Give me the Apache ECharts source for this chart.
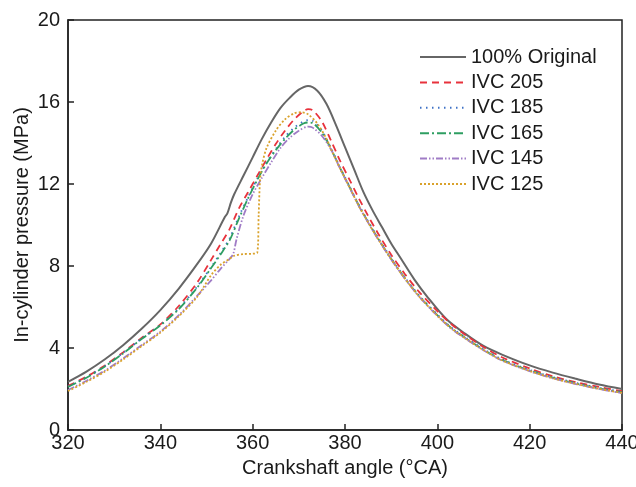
<!DOCTYPE html>
<html><head><meta charset="utf-8">
<script src="https://cdn.jsdelivr.net/npm/echarts@6/dist/echarts.min.js"></script>
<style>html,body{margin:0;padding:0;background:#fff}#c{width:636px;height:487px}</style>
</head><body><div id="c"></div>
<script>
const seriesNames = ['100% Original','IVC 205','IVC 185','IVC 165','IVC 145','IVC 125'];
const xTicks = [320,340,360,380,400,420,440];
const yTicks = [0,4,8,12,16,20];

const descAngles = [377,379,381,383,385,387,390,393,396,400,403,406,410,414,420,425,430,435,440];
const descValues = [13.7,12.75,11.85,10.95,10.15,9.4,8.35,7.4,6.55,5.6,4.98,4.5,3.92,3.42,2.9,2.55,2.27,2.03,1.83];

const origAngles = [320,324,328,332,336,340,344,348,351,354,354.5,355.3,356,358,360,362,364,366,368,370,372,374,376,378,380,382,384,386,388,390,392,395,398,402,406,410,414,420,425,430,435,440];
const origValues = [2.35,2.85,3.45,4.15,4.95,5.85,6.9,8.1,9.1,10.4,10.55,11.1,11.5,12.4,13.3,14.2,15.0,15.7,16.2,16.6,16.78,16.55,15.9,14.9,13.8,12.7,11.6,10.7,9.9,9.1,8.4,7.35,6.45,5.4,4.7,4.1,3.68,3.15,2.8,2.5,2.22,2.0];

const ivc205Angles = [320,324,328,332,336,340,344,348,351,353,355,357,359,361,363,365,367,369,371,372,373,375,377,379,381,383,385,387,390,393,396,400,403,406,410,414,420,425,430,435,440];
const ivc205Values = [2.15,2.6,3.15,3.8,4.5,5.15,6.05,7.2,8.3,9.05,9.8,10.8,11.6,12.4,13.2,13.95,14.6,15.15,15.55,15.65,15.6,15.05,14.1,13.1,12.2,11.3,10.45,9.65,8.55,7.6,6.75,5.8,5.17,4.65,4.05,3.55,3.0,2.62,2.33,2.1,1.9];

const riseAngles = [320,324,328,332,336,340,344,348,351,353,355,357,359,361,363,365,367,369,371,372,373,375];
const ivc185Rise = [2.12,2.57,3.12,3.77,4.47,5.12,5.93,7.0,7.95,8.62,9.35,10.4,11.35,12.25,13.05,13.7,14.3,14.75,15.05,15.12,15.08,14.6];
const ivc165Rise = [2.1,2.55,3.1,3.75,4.45,5.1,5.9,6.95,7.9,8.55,9.25,10.3,11.3,12.2,13.0,13.65,14.2,14.65,14.95,15.0,14.97,14.5];

const ivc145RiseAngles = [320,324,328,332,336,340,344,348,351,353,355,355.8,356.5,358,360,362,364,366,368,370,372,373,375];
const ivc145Rise = [1.95,2.4,2.9,3.5,4.15,4.8,5.6,6.55,7.3,7.85,8.35,8.6,9.3,10.45,11.5,12.3,13.05,13.75,14.25,14.6,14.8,14.75,14.35];

const ivc125RiseAngles = [320,324,328,332,336,340,344,348,351,353,355,356,358,360,361,361.3,361.6,362,363,365,367,369,370.5,372,374,376];
const ivc125Rise = [1.9,2.35,2.85,3.45,4.1,4.75,5.55,6.5,7.55,8.05,8.35,8.5,8.58,8.6,8.65,10.5,12.2,12.9,13.75,14.6,15.15,15.45,15.5,15.4,14.95,14.2];

function pairs(a, v){ return a.map((x,i)=>[x, v[i]]); }

const dataSets = [
  pairs(origAngles, origValues),
  pairs(ivc205Angles, ivc205Values),
  pairs(riseAngles.concat(descAngles), ivc185Rise.concat(descValues.map(v=>v+0.03))),
  pairs(riseAngles.concat(descAngles), ivc165Rise.concat(descValues)),
  pairs(ivc145RiseAngles.concat(descAngles), ivc145Rise.concat(descValues.map(v=>v-0.03))),
  pairs(ivc125RiseAngles.concat(descAngles), ivc125Rise.concat(descValues.map(v=>v-0.02)))
];

const colors = ['#666666','#e8323c','#3f72c6','#2e9e62','#a07cc6','#d9a22c'];
const dashes = ['solid',[7,5],[1.5,4.5],[9,3,2,3],[7,2,1.5,2,1.5,2],[2,2]];
const widths = [2,1.8,1.8,1.8,1.8,1.8];

const chart = echarts.init(document.getElementById('c'), null, {renderer:'canvas'});
const font = 'Liberation Sans, Arial, sans-serif';
chart.setOption({
  animation:false,
  backgroundColor:'#fff',
  grid:{left:68,right:14,top:20,bottom:57,show:true,borderColor:'#222',borderWidth:1.5,
        containLabel:false,outerBoundsMode:'none'},
  legend:{
    orient:'vertical', left:414, top:42, itemWidth:46, itemHeight:14, itemGap:5.4,
    itemStyle:{opacity:0},
    textStyle:{fontFamily:font,fontSize:20,color:'#1a1a1a'},
    data:seriesNames
  },
  xAxis:{
    type:'value', min:320, max:440, interval:20,
    name:'Crankshaft angle (°CA)', nameLocation:'middle', nameGap:28, nameMoveOverlap:false,
    nameTextStyle:{fontFamily:font,fontSize:20,color:'#1a1a1a'},
    axisLine:{lineStyle:{color:'#222',width:1.5}},
    axisTick:{inside:true,length:6,lineStyle:{color:'#222',width:1.5}},
    axisLabel:{fontFamily:font,fontSize:20,color:'#1a1a1a',margin:3},
    splitLine:{show:false}
  },
  yAxis:{
    type:'value', min:0, max:20, interval:4,
    name:'In-cylinder pressure (MPa)', nameLocation:'middle', nameGap:36, nameMoveOverlap:false,
    nameTextStyle:{fontFamily:font,fontSize:20,color:'#1a1a1a'},
    axisLine:{lineStyle:{color:'#222',width:1.5}},
    axisTick:{inside:true,length:6,lineStyle:{color:'#222',width:1.5}},
    axisLabel:{fontFamily:font,fontSize:20,color:'#1a1a1a',margin:8},
    splitLine:{show:false}
  },
  series: seriesNames.map((n,i)=>({
    name:n, type:'line', data:dataSets[i], showSymbol:false, symbol:'none',
    smooth:0.3, z: i===0?2:3,
    lineStyle:{color:colors[i], width:widths[i], type:dashes[i]},
    itemStyle:{color:colors[i]}
  }))
});
</script></body></html>
